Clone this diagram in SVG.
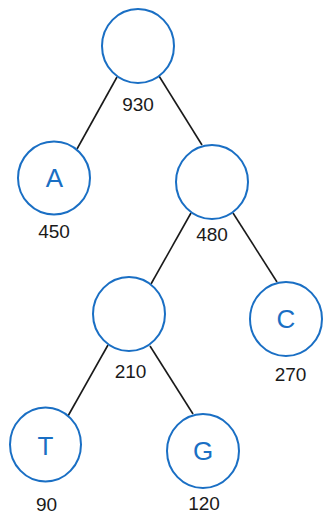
<svg xmlns="http://www.w3.org/2000/svg" width="331" height="526" viewBox="0 0 331 526">
  <style>
    .node { fill: #ffffff; stroke: #1a6fc4; stroke-width: 2; }
    .letter { font-family: "Liberation Sans", Arial, sans-serif; font-size: 26px; fill: #1a6fc4; text-anchor: middle; }
    .num { font-family: "Liberation Sans", Arial, sans-serif; font-size: 19px; fill: #1a1a1a; text-anchor: middle; }
    .edge { stroke: #1a1a1a; stroke-width: 1.6; fill: none; }
  </style>
  <rect width="331" height="526" fill="#ffffff"/>
  <g id="connectors">
    <line class="edge" x1="117" y1="77" x2="77" y2="149"/>
    <line class="edge" x1="159" y1="76" x2="202" y2="145"/>
    <line class="edge" x1="191" y1="213" x2="151" y2="284"/>
    <line class="edge" x1="233" y1="213" x2="277" y2="282"/>
    <line class="edge" x1="108" y1="345" x2="68" y2="416"/>
    <line class="edge" x1="150" y1="346" x2="193" y2="414"/>
  </g>
  <g id="root">
    <ellipse class="node" cx="138" cy="46" rx="36" ry="37"/>
    <text class="num" x="138" y="111">930</text>
  </g>
  <g id="nodeA">
    <ellipse class="node" cx="54" cy="178" rx="36" ry="36.5"/>
    <text class="letter" x="54.5" y="187">A</text>
    <text class="num" x="54" y="238">450</text>
  </g>
  <g id="node480">
    <ellipse class="node" cx="212" cy="182" rx="36" ry="37"/>
    <text class="num" x="212" y="241">480</text>
  </g>
  <g id="node210">
    <ellipse class="node" cx="129" cy="314" rx="36" ry="37"/>
    <text class="num" x="130.5" y="378">210</text>
  </g>
  <g id="nodeC">
    <ellipse class="node" cx="286" cy="319" rx="36" ry="37"/>
    <text class="letter" x="286" y="328">C</text>
    <text class="num" x="290.5" y="381">270</text>
  </g>
  <g id="nodeT">
    <ellipse class="node" cx="45.5" cy="444.5" rx="35.5" ry="37"/>
    <text class="letter" x="45.5" y="455">T</text>
    <text class="num" x="46.5" y="511">90</text>
  </g>
  <g id="nodeG">
    <ellipse class="node" cx="203" cy="451" rx="36" ry="37"/>
    <text class="letter" x="203" y="460">G</text>
    <text class="num" x="204" y="510">120</text>
  </g>
</svg>
